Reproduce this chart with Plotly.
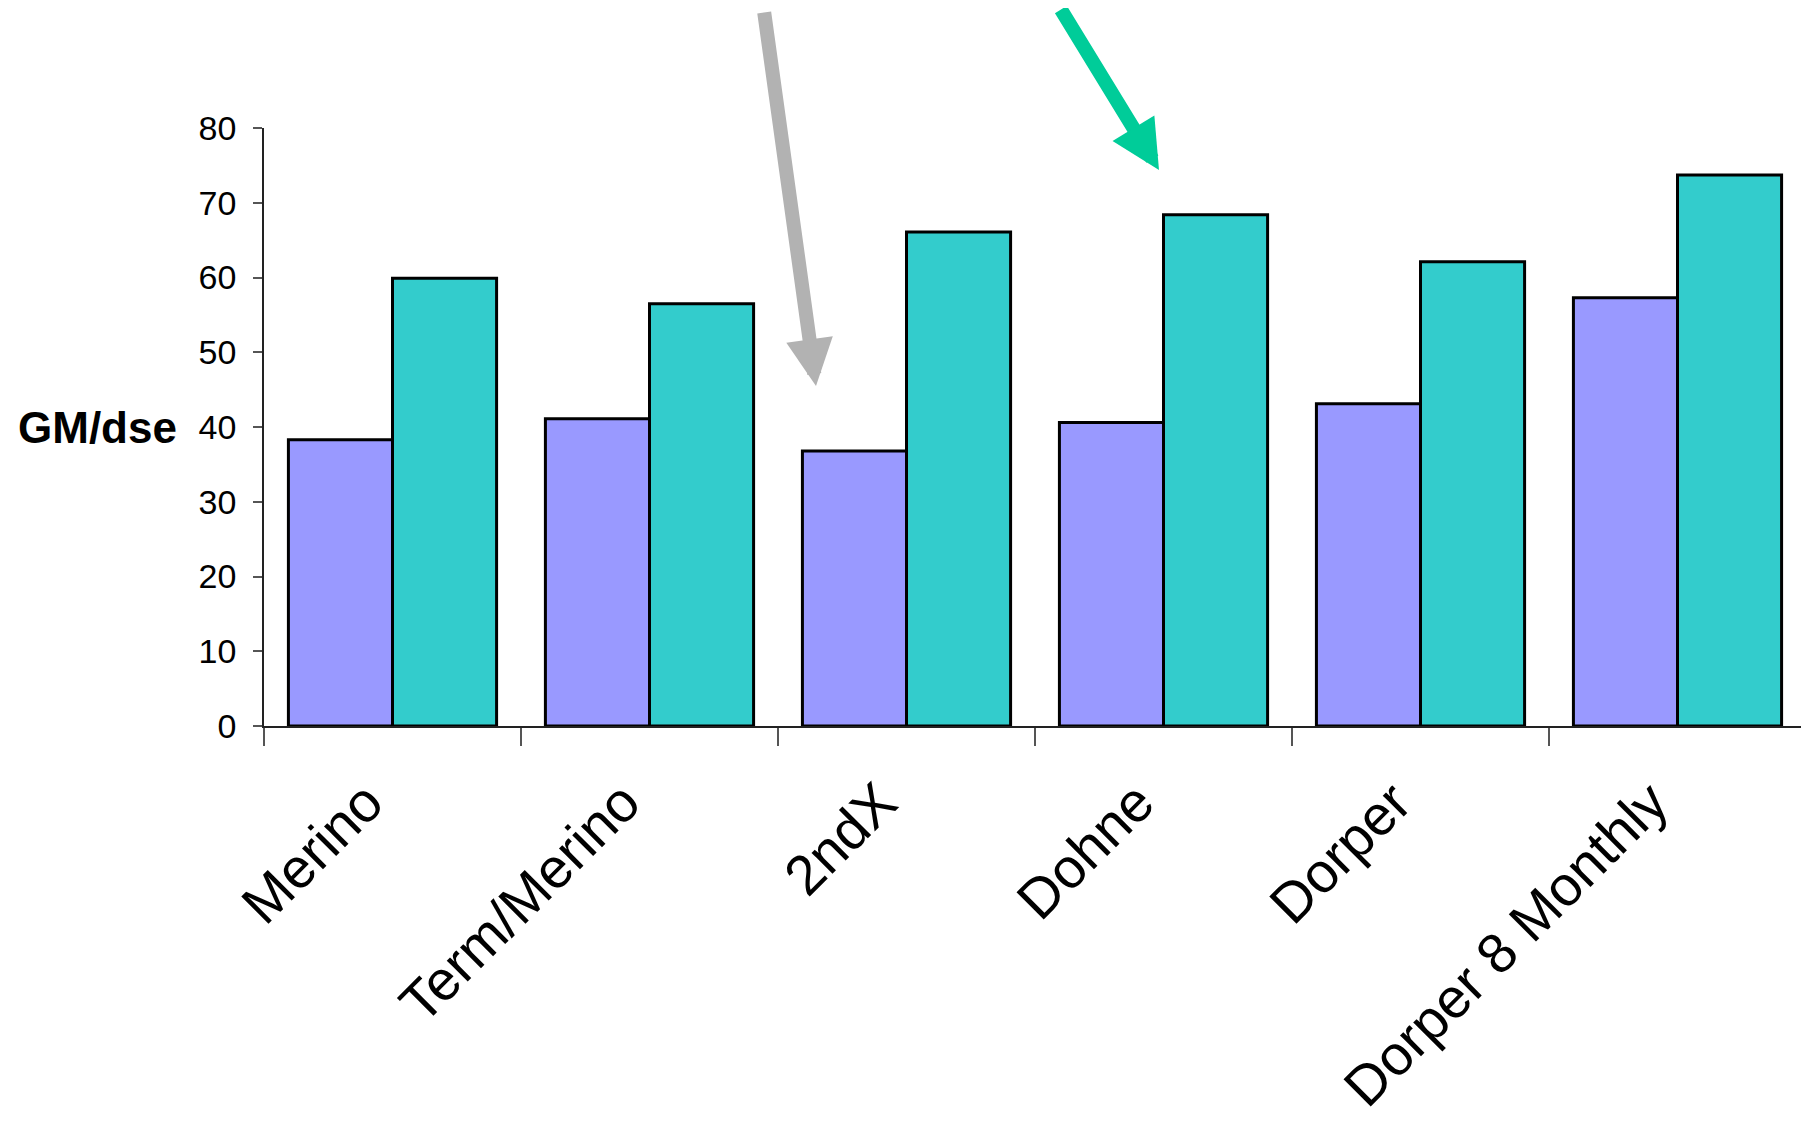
import plotly.graph_objects as go

categories = ["Merino", "Term/Merino", "2ndX", "Dohne", "Dorper", "Dorper 8 Monthly"]
series_a = [38.3, 41.1, 36.8, 40.6, 43.1, 57.3]
series_b = [59.9, 56.5, 66.1, 68.4, 62.1, 73.7]
y_ticks = [0, 10, 20, 30, 40, 50, 60, 70, 80]

# page has an 8px body margin; figure is sized to fit the window
W, H = 1801, 1111
L, R, T, B = 256, 3, 120, 393
pw, ph = W - L - R, H - T - B
PAGE_L, PAGE_BOTTOM = 264, 726  # plot area in page pixels

def px(x):
    return (x - PAGE_L) / pw

def py(y):
    return (PAGE_BOTTOM - y) / ph

fig = go.Figure()
fig.add_trace(go.Bar(x=categories, y=series_a, name="A",
                     marker=dict(color="#9999FF", line=dict(color="black", width=3))))
fig.add_trace(go.Bar(x=categories, y=series_b, name="B",
                     marker=dict(color="#33CCCC", line=dict(color="black", width=3))))

font_family = "Arial, Liberation Sans, sans-serif"

fig.update_layout(
    width=W, height=H, autosize=False,
    margin=dict(l=L, r=R, t=T, b=B, pad=0, autoexpand=False),
    paper_bgcolor="white", plot_bgcolor="white",
    barmode="group", bargap=0.19, bargroupgap=0,
    showlegend=False,
    font=dict(family=font_family, color="black"),
)
fig.update_yaxes(
    range=[0, 80], tickvals=y_ticks, ticks="outside", ticklen=9, tickwidth=1.5,
    tickcolor="#555555", showline=True, linecolor="#222222", linewidth=1.5,
    showgrid=False, zeroline=False, tickfont=dict(size=34, family=font_family),
    ticklabelstandoff=10, automargin=False,
)
fig.update_xaxes(
    tickson="boundaries", ticks="outside", ticklen=18, tickwidth=1.5, tickcolor="#555555",
    showline=True, linecolor="#222222", linewidth=2, showgrid=False,
    tickangle=-45, tickfont=dict(size=56, family=font_family),
    ticklabelstandoff=19, ticklabelshift=-26, automargin=False,
)

fig.add_annotation(
    text="<b>GM/dse</b>", xref="paper", yref="y", x=px(179), y=40,
    xanchor="right", yanchor="middle", showarrow=False,
    font=dict(size=44, family=font_family, color="black"),
)

# grey arrow
fig.add_annotation(
    text="", xref="paper", yref="paper", x=px(816), y=py(386),
    ax=764 - 816, ay=11 - 386, axref="pixel", ayref="pixel",
    showarrow=True, arrowhead=2, arrowsize=0.67, arrowwidth=14, arrowcolor="#B2B2B2",
)
# green arrow
fig.add_annotation(
    text="", xref="paper", yref="paper", x=px(1159), y=py(170),
    ax=1060 - 1159, ay=-4 - 170, axref="pixel", ayref="pixel",
    showarrow=True, arrowhead=2, arrowsize=0.7, arrowwidth=14, arrowcolor="#00CC99",
)

fig.write_html("out.html")
